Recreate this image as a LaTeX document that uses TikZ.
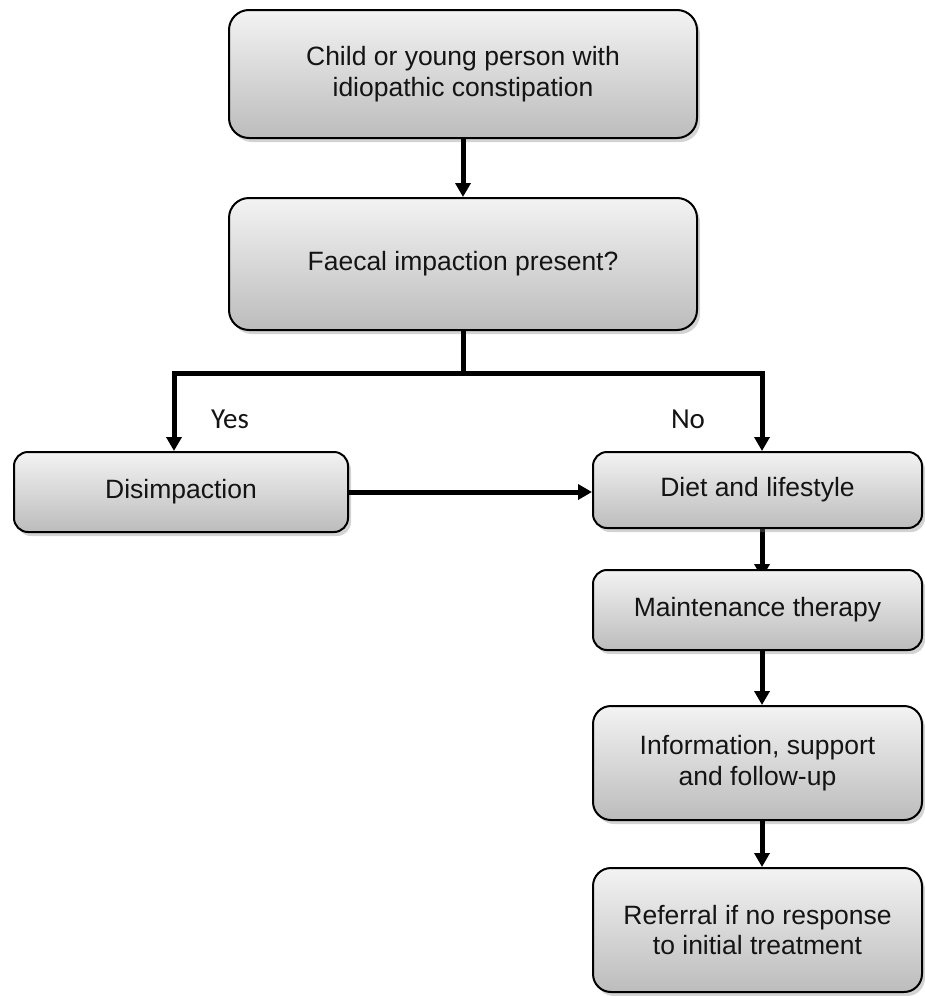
\documentclass[tikz,border=0pt]{standalone}
\usepackage{fontspec}
\setmainfont{Liberation Sans}
\newfontfamily\labfont{Carlito}
\usetikzlibrary{arrows.meta,shadows,backgrounds}
\definecolor{boxtop}{RGB}{243,243,243}
\definecolor{boxbot}{RGB}{188,188,188}
\definecolor{txt}{RGB}{20,20,20}
\tikzset{
  flowbox/.style={draw=black, line width=2pt, rounded corners=#1,
    top color=boxtop, bottom color=boxbot, text=txt,
    align=center, font=\fontsize{26.5}{30.5}\selectfont, inner sep=0pt,
    drop shadow={opacity=0.35, shadow xshift=3pt, shadow yshift=-4pt}},
  flowbox/.default=20pt,
  conn/.style={line width=5pt, -{Triangle[length=14pt,width=15pt]}},
  plainconn/.style={line width=5pt},
  lab/.style={font=\labfont\fontsize{29}{32}\selectfont, text=txt}
}
\begin{document}
\begin{tikzpicture}[x=1pt,y=-1pt]
\useasboundingbox (0,0) rectangle (924,996);
\node[flowbox, minimum width=468pt, minimum height=128pt] (start) at (463,74)
  {Child or young person with\\idiopathic constipation};
\node[flowbox, minimum width=468pt, minimum height=132pt] (faecal) at (463,264)
  {Faecal impaction present?};
\node[flowbox=14pt, minimum width=334pt, minimum height=80pt] (disimp) at (181,492)
  {Disimpaction};
\node[flowbox=14pt, minimum width=329pt, minimum height=76pt] (diet) at (757.5,490)
  {Diet and lifestyle};
\node[flowbox=14pt, minimum width=329pt, minimum height=80pt] (maint) at (757.5,610)
  {Maintenance therapy};
\node[flowbox=18pt, minimum width=329pt, minimum height=114pt] (info) at (757.5,763)
  {Information, support\\and follow-up};
\node[flowbox=18pt, minimum width=329pt, minimum height=124pt] (refer) at (757.5,930)
  {Referral if no response\\to initial treatment};
\coordinate (split) at (463,373);
\coordinate (splitL) at (174,373);
\coordinate (splitR) at (762,373);
\draw[conn] (start.south) -- (faecal.north);
\draw[plainconn, line cap=rect] (faecal.south) -- (split);
\draw[conn, line join=miter] (split) -- (splitL) -- (splitL |- disimp.north);
\draw[conn, line join=miter] (split) -- (splitR) -- (splitR |- diet.north);
\node[lab] (yes) at (230,419) {Yes};
\node[lab] (no) at (688,419) {No};
\draw[conn] (disimp.east) -- (diet.west |- disimp.east);
\begin{scope}[on background layer]
\draw[conn] (762,528) -- ([yshift=-9pt]maint.north -| 762,0);
\end{scope}
\draw[conn] (maint.south -| 762,0) -- (info.north -| 762,0);
\draw[conn] (info.south -| 762,0) -- (refer.north -| 762,0);
\end{tikzpicture}
\end{document}
